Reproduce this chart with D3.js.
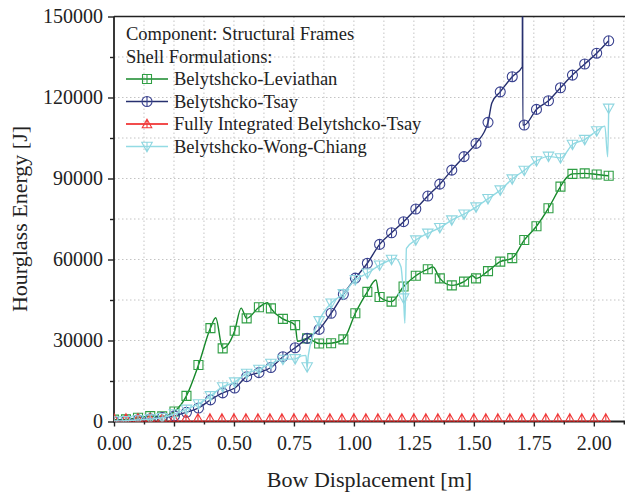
<!DOCTYPE html>
<html>
<head>
<meta charset="utf-8">
<script src="https://cdn.jsdelivr.net/npm/d3@7"></script>
<style>
  body { margin: 0; background: #fff; }
  svg { display: block; }
</style>
</head>
<body>
<svg id="chart" width="625" height="495"></svg>
<script>
// Bow displacement [m] at the symbol-marked samples (shared by three formulations)
const sampleDisp = [0, 0.05, 0.10, 0.151, 0.201, 0.252, 0.302, 0.352, 0.402, 0.453,
  0.503, 0.553, 0.604, 0.654, 0.704, 0.755, 0.805, 0.855, 0.905, 0.956,
  1.006, 1.056, 1.107, 1.157, 1.207, 1.258, 1.308, 1.358, 1.408, 1.459,
  1.509, 1.559, 1.610, 1.660, 1.710, 1.761, 1.811, 1.861, 1.911, 1.962,
  2.012, 2.062];

// Hourglass energy [J] at those samples
const leviathanY = [700, 800, 1400, 2000, 1900, 3700, 9500, 20900, 34600, 27100,
  33600, 38200, 42300, 41900, 38000, 35700, 30800, 28900, 29000, 30400,
  40100, 48000, 46100, 44400, 50000, 54000, 56400, 53000, 50400, 51800,
  53000, 55700, 59200, 60500, 67200, 72300, 79000, 87000, 91700, 91900,
  91500, 91000];
const tsayY = [0, 300, 600, 1000, 1500, 2100, 3400, 5000, 8000, 10600,
  12400, 16600, 18100, 20000, 24000, 27300, 30800, 34100, 40100, 47100,
  53100, 58600, 65600, 69900, 74000, 78700, 83500, 87900, 93100, 98100,
  103000, 110800, 122100, 127700, 109800, 115600, 118800, 123600, 128300, 132400,
  136400, 141000];
const wongChiangY = [200, 300, 600, 900, 1400, 2800, 4500, 6500, 9500, 12800,
  14600, 17800, 19300, 21500, 23000, 23200, 20200, 37300, 43800, 47300,
  52500, 54900, 57900, 60000, 45700, 67200, 69700, 71800, 74600, 76800,
  79400, 82500, 85700, 89800, 93000, 96500, 98200, 97600, 102600, 104400,
  107600, 116000];

// Intermediate samples between the symbols (line only)
const leviathanMidX = [0.424, 0.530, 0.640, 0.765, 1.092, 1.330, 1.495, 1.886];
const leviathanMidY = [38400, 42000, 44000, 29700, 52400, 57200, 54000, 90300];
const tsayMidX = [1.575, 1.702, 1.703, 1.704];
const tsayMidY = [118000, 131400, 200000, 109800];
const wongChiangMidX = [0.782, 0.800, 0.810, 1.172, 1.196, 1.2125, 1.219, 2.046, 2.058];
const wongChiangMidY = [24300, 24500, 24500, 60400, 57300, 36400, 64100, 109400, 98000];

// Fully integrated Belytschko-Tsay: no hourglass energy over the whole stroke
const fullyIntX = [0, 0.05, 0.10, 0.15, 0.20, 0.25, 0.30, 0.35, 0.40, 0.45,
  0.50, 0.55, 0.60, 0.65, 0.70, 0.75, 0.80, 0.85, 0.90, 0.95,
  1.00, 1.05, 1.10, 1.15, 1.20, 1.25, 1.30, 1.35, 1.40, 1.45,
  1.50, 1.55, 1.60, 1.65, 1.70, 1.75, 1.80, 1.85, 1.90, 1.95,
  2.00, 2.05];
const fullyIntY = [0, 0, 0, 0, 0, 0, 0, 0, 0, 0,
  0, 0, 0, 0, 0, 0, 0, 0, 0, 0,
  0, 0, 0, 0, 0, 0, 0, 0, 0, 0,
  0, 0, 0, 0, 0, 0, 0, 0, 0, 0,
  0, 0];
const fullyIntMidX = [2.07];
const fullyIntMidY = [0];

const xTicks = [0, 0.25, 0.5, 0.75, 1.0, 1.25, 1.5, 1.75, 2.0];
const yTicks = [0, 30000, 60000, 90000, 120000, 150000];

const legendTitle = ["Component: Structural Frames", "Shell Formulations:"];

const series = [
  { name: "Belytshcko-Leviathan", x: sampleDisp, y: leviathanY, mx: leviathanMidX, my: leviathanMidY,
    line: "#16882a", mark: "#2f9e44", shape: "square" },
  { name: "Belytshcko-Tsay", x: sampleDisp, y: tsayY, mx: tsayMidX, my: tsayMidY,
    line: "#27306f", mark: "#3a4290", shape: "circle" },
  { name: "Fully Integrated Belytshcko-Tsay", x: fullyIntX, y: fullyIntY, mx: fullyIntMidX, my: fullyIntMidY,
    line: "#ee1111", mark: "#f03a3a", shape: "up" },
  { name: "Belytshcko-Wong-Chiang", x: sampleDisp, y: wongChiangY, mx: wongChiangMidX, my: wongChiangMidY,
    line: "#93dbe4", mark: "#8fd6e0", shape: "down" }
];

const SERIF = '"Liberation Serif", "Times New Roman", serif';
const svg = d3.select("#chart");
const L = 114, R = 625, T = 16.5, B = 421.5;

const x = d3.scaleLinear().domain([0, 2.13]).range([L, R]);
const y = d3.scaleLinear().domain([0, 150000]).range([B, T]);

svg.append("defs").append("clipPath").attr("id", "plotClip")
  .append("rect").attr("x", L).attr("y", T).attr("width", R - L).attr("height", B - T);

// Dotted grid at major and minor intervals
const gridX = d3.range(1, 18).map(i => i * 0.125);
const gridY = d3.range(1, 10).map(i => i * 15000);
const grid = svg.append("g").attr("stroke", "#c4c4c4").attr("stroke-width", 1)
  .attr("stroke-dasharray", "1.5,2.5");
grid.selectAll("line.gx").data(gridX).join("line").attr("class", "gx")
  .attr("x1", d => x(d)).attr("x2", d => x(d)).attr("y1", T).attr("y2", B);
grid.selectAll("line.gy").data(gridY).join("line").attr("class", "gy")
  .attr("x1", L).attr("x2", R).attr("y1", d => y(d)).attr("y2", d => y(d));

// Axes
const xAxis = svg.append("g").attr("transform", `translate(0,${B})`)
  .call(d3.axisBottom(x).tickValues(xTicks).tickSize(5).tickSizeOuter(0).tickPadding(9)
    .tickFormat(d3.format(".2f")));
const xMinor = svg.append("g").attr("transform", `translate(0,${B})`)
  .call(d3.axisBottom(x).tickValues(xTicks.map(v => v + 0.125)).tickSize(3).tickSizeOuter(0).tickFormat(""));
const yAxis = svg.append("g").attr("transform", `translate(${L},0)`)
  .call(d3.axisLeft(y).tickValues(yTicks).tickSize(6).tickSizeOuter(0).tickPadding(5)
    .tickFormat(d3.format("d")));
const yMinor = svg.append("g").attr("transform", `translate(${L},0)`)
  .call(d3.axisLeft(y).tickValues(yTicks.slice(0, -1).map(v => v + 15000)).tickSize(4).tickSizeOuter(0).tickFormat(""));

[xAxis, xMinor, yAxis, yMinor].forEach(g => {
  g.attr("font-family", null).attr("font-size", null);
  g.select(".domain").remove();
  g.selectAll(".tick line").attr("stroke", "#222").attr("stroke-width", 1.4);
  g.selectAll("text").style("font-family", SERIF).style("font-size", "20px").attr("fill", "#222");
});

svg.append("line").attr("x1", L).attr("x2", R).attr("y1", B).attr("y2", B)
  .attr("stroke", "#222").attr("stroke-width", 1.8);
svg.append("line").attr("x1", L).attr("x2", L).attr("y1", T).attr("y2", B + 0.9)
  .attr("stroke", "#222").attr("stroke-width", 1.8);
svg.append("line").attr("x1", L).attr("x2", R).attr("y1", T).attr("y2", T)
  .attr("stroke", "#222").attr("stroke-width", 1.6);

// Axis titles
svg.append("text").attr("x", (L + R) / 2).attr("y", 487).attr("text-anchor", "middle")
  .style("font-family", SERIF).style("font-size", "22px").attr("fill", "#222")
  .text("Bow Displacement [m]");
svg.append("text").attr("transform", `translate(27,${(T + B) / 2}) rotate(-90)`)
  .attr("text-anchor", "middle")
  .style("font-family", SERIF).style("font-size", "22px").attr("fill", "#222")
  .text("Hourglass Energy [J]");

// Symbol outlines with a vertical bar inside
function symbolPath(shape, s) {
  const h = s / 2;
  if (shape === "square")
    return `M${-h},${-h}H${h}V${h}H${-h}Z M0,${-h}V${h}`;
  if (shape === "circle")
    return `M${h},0A${h},${h} 0 1,1 ${-h},0A${h},${h} 0 1,1 ${h},0Z M0,${-h}V${h}`;
  if (shape === "up")
    return `M0,${-h}L${h},${h * 0.8}H${-h}Z M0,${-h}V${h * 0.8}`;
  return `M0,${h}L${h},${-h * 0.8}H${-h}Z M0,${h}V${-h * 0.8}`;
}
const symbolSize = { square: 9, circle: 10, up: 9.5, down: 10.5 };

const line = d3.line().x(d => x(d[0])).y(d => y(d[1])).curve(d3.curveMonotoneX);
const plot = svg.append("g").attr("clip-path", "url(#plotClip)");

series.forEach(s => {
  const marks = s.x.map((v, i) => [v, s.y[i]]);
  const pts = marks.concat(s.mx.map((v, i) => [v, s.my[i]])).sort((a, b) => a[0] - b[0]);
  plot.append("path").datum(pts).attr("d", line).attr("fill", "none")
    .attr("stroke", s.line).attr("stroke-width", 1.4).attr("stroke-linejoin", "round");
  plot.append("g").selectAll("path").data(marks).join("path")
    .attr("transform", d => `translate(${x(d[0])},${y(d[1]) - (s.shape === "up" ? 3 : 0)})`)
    .attr("d", symbolPath(s.shape, symbolSize[s.shape]))
    .attr("fill", "none").attr("stroke", s.mark).attr("stroke-width", 1.1);
});

// Legend
const lg = svg.append("g");
const rowY = [39.5, 62.5, 85, 107.5, 130, 152.5];
legendTitle.forEach((t, i) => {
  lg.append("text").attr("x", 126).attr("y", rowY[i])
    .style("font-family", SERIF).style("font-size", "18.5px").attr("fill", "#222").text(t);
});
series.forEach((s, i) => {
  const yy = rowY[i + 2] - 6;
  lg.append("line").attr("x1", 126).attr("x2", 168).attr("y1", yy).attr("y2", yy)
    .attr("stroke", s.line).attr("stroke-width", 1.4);
  lg.append("path").attr("transform", `translate(147,${yy})`)
    .attr("d", symbolPath(s.shape, symbolSize[s.shape]))
    .attr("fill", "none").attr("stroke", s.mark).attr("stroke-width", 1.1);
  lg.append("text").attr("x", 174).attr("y", rowY[i + 2])
    .style("font-family", SERIF).style("font-size", "18.5px").attr("fill", "#222").text(s.name);
});
</script>
</body>
</html>
